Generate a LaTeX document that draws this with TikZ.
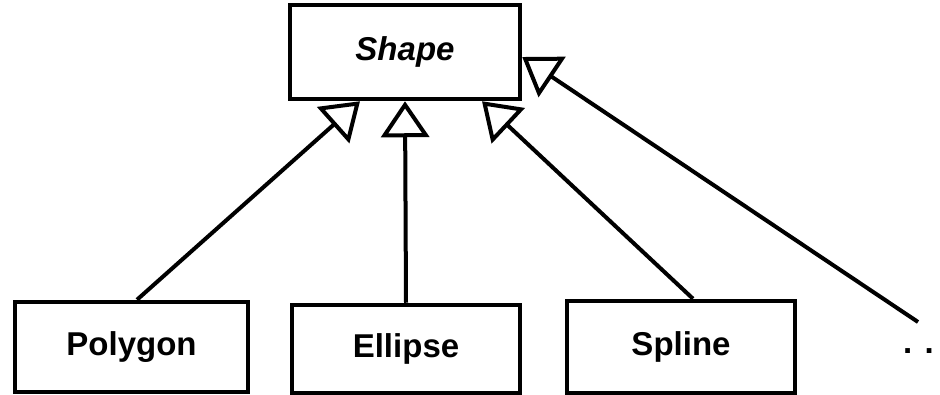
\documentclass[tikz,border=0pt]{standalone}
\usepackage{fontspec}
\setmainfont{Liberation Sans}
\usetikzlibrary{arrows.meta}
\begin{document}
\begin{tikzpicture}[x=1pt,y=-1pt,
  lbl/.style={font=\fontsize{33}{36}\selectfont\bfseries},
  box/.style={draw, line width=4.5pt, inner sep=0pt, lbl, text height=24pt, text depth=7pt},
  inherit/.style={line width=4pt, -{Triangle[open,length=36pt,width=48pt,fill=white,line width=4pt]}}]
\useasboundingbox (0,0) rectangle (940,395);
\node[box, minimum width=230pt, minimum height=94pt, font=\fontsize{33}{36}\selectfont\bfseries\itshape] (shape) at (405,52) {Shape};
\node[box, minimum width=233pt, minimum height=90pt] (poly) at (131.5,347) {Polygon};
\node[box, minimum width=228pt, minimum height=88pt] (ell) at (406,349) {Ellipse};
\node[box, minimum width=228pt, minimum height=92pt] (spl) at (681,347) {Spline};
\node[lbl, anchor=base west, inner sep=0pt] (dots) at (903,354) {. .};
\coordinate (more) at (918,322);
\draw[inherit] ([xshift=5.5pt]poly.north) -- ([xshift=-45pt]shape.south);
\draw[inherit] (ell.north) -- (shape.south);
\draw[inherit] ([xshift=12pt]spl.north) -- ([xshift=77pt]shape.south);
\draw[inherit] (more) -- ([yshift=-5pt]shape.east);
\end{tikzpicture}
\end{document}
